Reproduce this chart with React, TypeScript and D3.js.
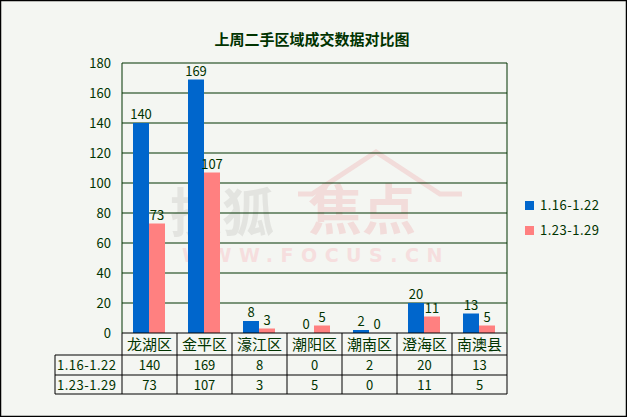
import React from "react";
import * as d3 from "d3";

const categories = ["龙湖区", "金平区", "濠江区", "潮阳区", "潮南区", "澄海区", "南澳县"];
const seriesNames = ["1.16-1.22", "1.23-1.29"];
const series1 = [140, 169, 8, 0, 2, 20, 13];
const series2 = [73, 107, 3, 5, 0, 11, 5];
const yTicks = [0, 20, 40, 60, 80, 100, 120, 140, 160, 180];
const title = "上周二手区域成交数据对比图";

const W = 627;
const H = 417;
const colors = ["#0066cc", "#ff8080"];
const textColor = "#003300";
const font = "SimSun, 'Noto Sans CJK SC', sans-serif";

export default function App() {
  const left = 122, right = 507, top = 63, bottom = 333;
  const x = d3.scaleBand<string>().domain(categories).range([left, right]).paddingInner(0).paddingOuter(0);
  const y = d3.scaleLinear().domain([0, 180]).range([bottom, top]);
  const bw = 16;
  const offset = 11;
  const allSeries = [series1, series2];
  const rowY = [333, 355, 375, 394];
  const tableLeft = 55;

  return (
    <svg width={W} height={H} style={{ position: "absolute", left: 0, top: 0 }}>
      <rect x={0.5} y={0.5} width={W - 1} height={H - 1} fill="#f4f6f2" stroke="#000" strokeWidth={1.5} />
      {/* watermark */}
      <g>
        <text x={170} y={232} fontSize={52} fontWeight="bold" fill="#e3e4e0" fontFamily={font}>搜狐</text>
        <text x={308} y={230} fontSize={54} fontWeight="bold" fill="#f2dcda" fontFamily={font}>焦点</text>
        <polyline points="298,194 312,194 376,152 440,194 462,194" fill="none" stroke="#f2dcda" strokeWidth={5} />
        <text x={182} y={262} fontSize={19} fill="#f6dede" fontFamily="'DejaVu Sans', sans-serif" letterSpacing={7.5} fontWeight="bold">WWW.FOCUS.CN</text>
      </g>
      <text x={312} y={45} textAnchor="middle" fontSize={15} fontWeight="bold" fill={textColor} fontFamily={font}>{title}</text>
      {/* grid */}
      {yTicks.map((t) => (
        <g key={t}>
          {t > 0 && <line x1={left} x2={right} y1={y(t)} y2={y(t)} stroke={textColor} strokeWidth={1} />}
          <text x={111} y={y(t) + 5} textAnchor="end" fontSize={13} fill={textColor} fontFamily={font}>{t}</text>
        </g>
      ))}
      {/* bars */}
      {allSeries.map((s, si) =>
        s.map((v, i) => {
          const bx = (x(categories[i]) as number) + offset + si * bw;
          return (
            <g key={`${si}-${i}`}>
              <rect x={bx} y={y(v)} width={bw} height={bottom - y(v)} fill={colors[si]} />
              <text x={bx + bw / 2} y={y(v) - 4} textAnchor="middle" fontSize={13} fill={textColor} fontFamily={font}>{v}</text>
            </g>
          );
        })
      )}
      <line x1={left} x2={left} y1={top} y2={bottom} stroke={textColor} />
      <line x1={right} x2={right} y1={top} y2={bottom} stroke={textColor} />
      {/* table */}
      <g stroke="#000" strokeWidth={1}>
        <line x1={left} x2={right} y1={rowY[0]} y2={rowY[0]} />
        <line x1={tableLeft} x2={right} y1={rowY[1]} y2={rowY[1]} />
        <line x1={tableLeft} x2={right} y1={rowY[2]} y2={rowY[2]} />
        <line x1={tableLeft} x2={right} y1={rowY[3]} y2={rowY[3]} />
        <line x1={tableLeft} x2={tableLeft} y1={rowY[1]} y2={rowY[3]} />
        {categories.map((c) => (
          <line key={c} x1={x(c) as number} x2={x(c) as number} y1={rowY[0]} y2={rowY[3]} />
        ))}
        <line x1={right} x2={right} y1={rowY[0]} y2={rowY[3]} />
      </g>
      {categories.map((c) => (
        <text key={c} x={(x(c) as number) + x.bandwidth() / 2} y={rowY[0] + 17} textAnchor="middle" fontSize={15} fill={textColor} fontFamily={font}>{c}</text>
      ))}
      {allSeries.map((s, si) => (
        <g key={si}>
          <text x={tableLeft + 2} y={rowY[si + 1] + 15} fontSize={13} fill={textColor} fontFamily={font} letterSpacing={0.5}>{seriesNames[si]}</text>
          {s.map((v, i) => (
            <text key={i} x={(x(categories[i]) as number) + x.bandwidth() / 2} y={rowY[si + 1] + 15} textAnchor="middle" fontSize={13} fill={textColor} fontFamily={font}>{v}</text>
          ))}
        </g>
      ))}
      {/* legend */}
      {seriesNames.map((n, i) => (
        <g key={n}>
          <rect x={525} y={201 + i * 25} width={9} height={9} fill={colors[i]} />
          <text x={540} y={210 + i * 25} fontSize={13} fill={textColor} fontFamily={font} letterSpacing={0.5}>{n}</text>
        </g>
      ))}
    </svg>
  );
}
